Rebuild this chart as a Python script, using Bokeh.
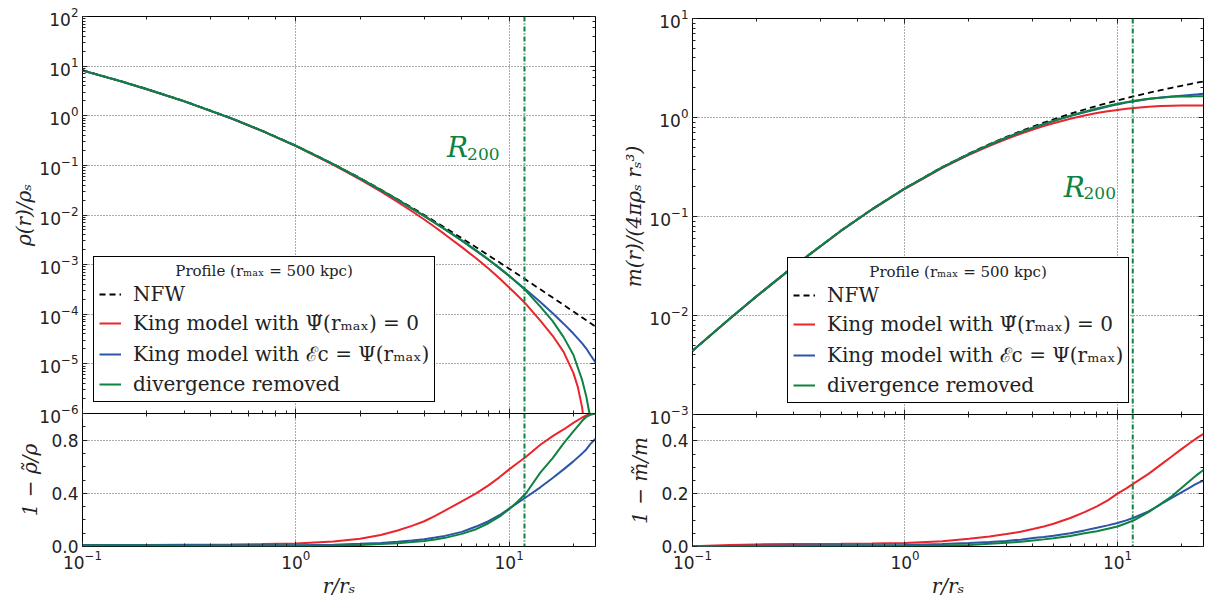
from bokeh.plotting import figure
from bokeh.models import (Range1d, LogAxis, LinearAxis, Span, Label, Legend, LegendItem,
                          SingleIntervalTicker, PrintfTickFormatter, CustomJSTickFormatter)
from bokeh.layouts import row, column
from bokeh.embed import file_html
from bokeh.resources import INLINE

# ---------------- data ----------------
r = [0.1, 0.15, 0.2, 0.3, 0.5, 0.7, 1.0, 1.5, 2.0, 2.5, 3.0, 3.5, 4.0, 4.5, 5.0, 6.0,
     7.0, 8.0, 9.0, 10.0, 11.0, 12.0, 14.0, 16.0, 18.0, 20.0, 22.0, 23.0, 24.0, 25.4]

rho_nfw = [8.264, 5.041, 3.472, 1.972, 0.8889, 0.4943, 0.25, 0.1067, 0.05556, 0.03265,
           0.02083, 0.01411, 0.01, 0.007346, 0.005556, 0.003401, 0.002232, 0.001543,
           0.001111, 0.0008264, 0.0006313, 0.0004931, 0.0003175, 0.0002163, 0.0001539,
           0.0001134, 8.593e-5, 7.548e-5, 6.667e-5, 5.649e-5]

r_rho_king_psi = [0.1, 0.15, 0.2, 0.3, 0.5, 0.7, 1.0, 1.5, 2.0, 2.5, 3.0, 3.5, 4.0, 4.5,
                  5.0, 6.0, 7.0, 8.0, 9.0, 10.0, 11.0, 12.0, 14.0, 16.0, 18.0, 20.0,
                  21.0, 22.0, 22.6]
rho_king_psi = [8.18, 4.99, 3.43, 1.946, 0.876, 0.485, 0.244, 0.1026, 0.0523, 0.02984,
                0.0183, 0.01192, 0.0081, 0.005656, 0.00406, 0.00225, 0.00134, 0.000833,
                0.000533, 0.000347, 0.0002336, 0.00016, 7.46e-5, 3.68e-5, 1.75e-5,
                6.6e-6, 3.4e-6, 1.3e-6, 5e-7]

rho_king_ec = [8.165, 4.98, 3.43, 1.95, 0.880, 0.4894, 0.2475, 0.1052, 0.05445, 0.03177,
               0.0201, 0.013475, 0.00945, 0.006854, 0.005112, 0.003027, 0.001897,
               0.00125, 0.00085, 0.000591, 0.000423, 0.0003107, 1.762e-4, 1.049e-4,
               6.46e-5, 4.08e-5, 2.58e-5, 2.04e-5, 1.53e-5, 1.07e-5]

r_rho_div = [0.1, 0.15, 0.2, 0.3, 0.5, 0.7, 1.0, 1.5, 2.0, 2.5, 3.0, 3.5, 4.0, 4.5, 5.0,
             6.0, 7.0, 8.0, 9.0, 10.0, 11.0, 12.0, 14.0, 16.0, 18.0, 20.0, 22.0, 23.0,
             23.8, 24.3]
rho_div = [8.20, 5.00, 3.448, 1.96, 0.8845, 0.4918, 0.2488, 0.1058, 0.0549, 0.03206,
           0.02031, 0.013644, 0.00958, 0.006957, 0.005195, 0.003078, 0.001942, 0.001273,
           0.000861, 0.000595, 0.000417, 0.0002959, 1.429e-4, 7.25e-5, 3.46e-5, 1.53e-5,
           4.7e-6, 2.2e-6, 1.0e-6, 4e-7]

drho_king_psi = [0.010, 0.011, 0.012, 0.013, 0.015, 0.018, 0.023, 0.038, 0.058, 0.086,
                 0.12, 0.155, 0.19, 0.23, 0.27, 0.34, 0.40, 0.46, 0.52, 0.58, 0.63,
                 0.675, 0.765, 0.83, 0.88, 0.93, 0.97, 0.985, 0.995, 1.0]
drho_king_ec = [0.012, 0.012, 0.012, 0.011, 0.010, 0.010, 0.010, 0.014, 0.020, 0.027,
                0.035, 0.045, 0.055, 0.067, 0.080, 0.110, 0.150, 0.190, 0.235, 0.285,
                0.330, 0.370, 0.445, 0.515, 0.580, 0.640, 0.700, 0.730, 0.770, 0.810]
drho_div = [0.008, 0.008, 0.007, 0.006, 0.005, 0.005, 0.005, 0.008, 0.012, 0.018,
            0.025, 0.033, 0.042, 0.053, 0.065, 0.095, 0.130, 0.175, 0.225, 0.280,
            0.340, 0.400, 0.555, 0.665, 0.775, 0.865, 0.945, 0.975, 0.990, 1.000]

m_nfw = [0.004401, 0.009327, 0.015655, 0.031595, 0.072132, 0.118863, 0.193147, 0.316291,
         0.431946, 0.538477, 0.636294, 0.726299, 0.809438, 0.886566, 0.958426, 1.088767,
         1.204442, 1.308334, 1.402585, 1.488808, 1.56824, 1.641873, 1.774719, 1.892029,
         1.99707, 2.092142, 2.178972, 2.219721, 2.258876, 2.311243]
m_king_psi = [0.004397, 0.009271, 0.01553, 0.03131, 0.07141, 0.11756, 0.19064, 0.30997,
              0.41942, 0.51802, 0.60639, 0.68563, 0.75601, 0.81919, 0.8760, 0.97118,
              1.04786, 1.10947, 1.15713, 1.19105, 1.22323, 1.24782, 1.28667, 1.3055,
              1.3161, 1.3201, 1.3226, 1.3230, 1.3237, 1.3243]
m_king_ec = [0.004401, 0.009308, 0.015608, 0.031469, 0.071771, 0.118269, 0.191988,
             0.313444, 0.426331, 0.52932, 0.622932, 0.70742, 0.783536, 0.85465, 0.919131,
             1.034329, 1.130971, 1.214134, 1.29038, 1.356304, 1.41298, 1.461267, 1.538681,
             1.589304, 1.629609, 1.663253, 1.690882, 1.702526, 1.714487, 1.733432]
m_div = [0.004401, 0.009318, 0.015624, 0.031532, 0.071916, 0.118506, 0.192568, 0.315026,
         0.429354, 0.533092, 0.627386, 0.713226, 0.790821, 0.862629, 0.928715, 1.045216,
         1.14422, 1.232451, 1.308613, 1.375659, 1.430235, 1.477686, 1.544006, 1.585513,
         1.617627, 1.627679, 1.634229, 1.635934, 1.637685, 1.640983]

dm_king_psi = [0.001, 0.006, 0.008, 0.009, 0.010, 0.011, 0.013, 0.020, 0.029, 0.038,
               0.047, 0.056, 0.066, 0.076, 0.086, 0.108, 0.130, 0.152, 0.175, 0.200,
               0.220, 0.240, 0.275, 0.310, 0.341, 0.369, 0.393, 0.404, 0.414, 0.427]
dm_king_ec = [0.000, 0.002, 0.003, 0.004, 0.005, 0.005, 0.006, 0.009, 0.013, 0.017,
              0.021, 0.026, 0.032, 0.036, 0.041, 0.050, 0.061, 0.071, 0.080, 0.089,
              0.099, 0.110, 0.133, 0.160, 0.184, 0.205, 0.224, 0.233, 0.241, 0.250]
dm_div = [0.000, 0.001, 0.002, 0.002, 0.003, 0.003, 0.003, 0.004, 0.006, 0.010,
          0.014, 0.018, 0.023, 0.027, 0.031, 0.040, 0.050, 0.058, 0.067, 0.076,
          0.088, 0.100, 0.130, 0.162, 0.190, 0.222, 0.250, 0.263, 0.275, 0.290]

r200 = 11.8
x_min, x_max = 0.1, 25.4

legend_title = "Profile (rₘₐₓ = 500 kpc)"
labels = ["NFW", "King model with Ψ̃(rₘₐₓ) = 0", "King model with ℰc = Ψ(rₘₐₓ)",
          "divergence removed"]

# ---------------- styles ----------------
RED = "#e8262c"
BLUE = "#2c55a5"
GREEN = "#0e8241"
TXT = "#222222"
SERIF = "DejaVu Serif"
SANS = "DejaVu Sans"
OVERLAP = 16


def style_axis(ax, show_labels):
    ax.axis_line_color = None
    ax.major_tick_in = 5
    ax.major_tick_out = 0
    ax.minor_tick_in = 3
    ax.minor_tick_out = 0
    ax.major_tick_line_color = TXT
    ax.minor_tick_line_color = TXT
    if show_labels:
        ax.major_label_text_font = SANS
        ax.major_label_text_font_size = "17px"
        ax.major_label_text_color = TXT
        ax.major_label_standoff = 4
    else:
        ax.formatter = CustomJSTickFormatter(code="return ''")
        ax.major_label_text_font_size = "0px"
        ax.major_label_standoff = 0


def style_label(ax, text, standoff):
    ax.axis_label = text
    ax.axis_label_text_font = SERIF
    ax.axis_label_text_font_style = "italic"
    ax.axis_label_text_font_size = "20px"
    ax.axis_label_text_color = TXT
    ax.axis_label_standoff = standoff


def make_fig(xr, yr, ytype, fw, fh, bl, br, bt, bb):
    p = figure(x_range=xr, y_range=yr, x_axis_type="log", y_axis_type=ytype,
               frame_width=fw, frame_height=fh, min_border_left=bl, min_border_right=br,
               min_border_top=bt, min_border_bottom=bb, toolbar_location=None,
               output_backend="svg", background_fill_color="white",
               border_fill_color="white")
    p.outline_line_color = "black"
    p.outline_line_width = 1
    p.outline_line_alpha = 1
    for g in (p.xgrid, p.ygrid):
        g.grid_line_color = "#333333"
        g.grid_line_dash = "1 2"
        g.grid_line_width = 1
        g.grid_line_alpha = 0.8
    return p


def decorate(p, top, ytick=None):
    left_ax = p.yaxis[0]
    below_ax = p.xaxis[0]
    style_axis(left_ax, True)
    style_axis(below_ax, not top)
    ra = LogAxis() if top else LinearAxis(ticker=ytick)
    style_axis(ra, False)
    p.add_layout(ra, "right")
    aa = LogAxis()
    style_axis(aa, False)
    p.add_layout(aa, "above")
    return left_ax, below_ax


def r200_span(p):
    p.add_layout(Span(location=r200, dimension="height", line_color=GREEN,
                      line_width=2, line_dash="5 2 1 2"))


def add_legend(p, rends, loc):
    items = [LegendItem(label=l, renderers=[rr]) for l, rr in zip(labels, rends)]
    lg = Legend(items=items, location=loc,
                title="\u00a0" * 16 + legend_title,
                title_text_font=SERIF, title_text_font_size="15px",
                title_text_font_style="normal", title_text_color=TXT,
                title_standoff=2, label_text_font=SERIF, label_text_font_size="20px",
                label_text_color=TXT, label_height=24, glyph_height=24, glyph_width=22,
                label_standoff=12, spacing=5, padding=5, margin=0,
                border_line_color="black", border_line_width=1, border_line_alpha=1,
                background_fill_color="white", background_fill_alpha=1)
    p.add_layout(lg)


def r200_label(p, x1, y1, x2, y2):
    p.add_layout(Label(x=x1, y=y1, text="R", text_font=SERIF, text_font_style="italic",
                       text_font_size="28px", text_color=GREEN, text_baseline="alphabetic"))
    p.add_layout(Label(x=x2, y=y2, text="200", text_font=SERIF, text_font_size="17px",
                       text_color=GREEN, text_baseline="alphabetic"))


# ---------------- left column ----------------
xr_l = Range1d(x_min, x_max)
lt = make_fig(xr_l, Range1d(1e-6, 1e2), "log", 513, 397, 82, 10, 16, OVERLAP)
lt_y, _ = decorate(lt, True)
style_label(lt_y, "ρ(r)/ρₛ", 0)

l_nfw = lt.line(r, rho_nfw, color="black", line_width=1.8, line_dash="6 4")
l_psi = lt.line(r_rho_king_psi, rho_king_psi, color=RED, line_width=2)
l_ec = lt.line(r, rho_king_ec, color=BLUE, line_width=2)
l_div = lt.line(r_rho_div, rho_div, color=GREEN, line_width=2)
r200_span(lt)
r200_label(lt, 5.12, 0.2286, 6.35, 0.173)
add_legend(lt, [l_nfw, l_psi, l_ec, l_div], (11, 11))

lb = make_fig(xr_l, Range1d(0.0, 1.0), "linear", 513, 133, 82, 10, 0, 55)
lb.border_fill_alpha = 0
lb.margin = (-OVERLAP, 0, 0, 0)
t_l = SingleIntervalTicker(interval=0.4, num_minor_ticks=4)
lb.yaxis[0].ticker = t_l
lb.ygrid.ticker = t_l
lb.yaxis[0].formatter = PrintfTickFormatter(format="%.1f")
lb_y, lb_x = decorate(lb, False, SingleIntervalTicker(interval=0.4, num_minor_ticks=4))
style_label(lb_y, "1 − ρ̃/ρ", 6)
style_label(lb_x, "r/rₛ", 2)
lb_x.major_label_standoff = 3
lb.line(r, drho_king_psi, color=RED, line_width=2)
lb.line(r, drho_king_ec, color=BLUE, line_width=2)
lb.line(r, drho_div, color=GREEN, line_width=2)
r200_span(lb)

# ---------------- right column ----------------
xr_r = Range1d(x_min, x_max)
rt = make_fig(xr_r, Range1d(1e-3, 1e1), "log", 511, 396, 87, 2, 18, OVERLAP)
rt_y, _ = decorate(rt, True)
style_label(rt_y, "m(r)/(4πρₛ rₛ³)", 0)

m_nfw_r = rt.line(r, m_nfw, color="black", line_width=1.8, line_dash="6 4")
m_psi_r = rt.line(r, m_king_psi, color=RED, line_width=2)
m_ec_r = rt.line(r, m_king_ec, color=BLUE, line_width=2)
m_div_r = rt.line(r, m_div, color=GREEN, line_width=2)
r200_span(rt)
r200_label(rt, 5.58, 0.196, 6.92, 0.1746)
add_legend(rt, [m_nfw_r, m_psi_r, m_ec_r, m_div_r], (95, 11))

rb = make_fig(xr_r, Range1d(0.0, 0.5), "linear", 511, 132, 87, 2, 0, 55)
rb.border_fill_alpha = 0
rb.margin = (-OVERLAP, 0, 0, 0)
t_r = SingleIntervalTicker(interval=0.2, num_minor_ticks=4)
rb.yaxis[0].ticker = t_r
rb.ygrid.ticker = t_r
rb.yaxis[0].formatter = PrintfTickFormatter(format="%.1f")
rb_y, rb_x = decorate(rb, False, SingleIntervalTicker(interval=0.2, num_minor_ticks=4))
style_label(rb_y, "1 − m̃/m", 6)
style_label(rb_x, "r/rₛ", 2)
rb_x.major_label_standoff = 3
rb.line(r, dm_king_psi, color=RED, line_width=2)
rb.line(r, dm_king_ec, color=BLUE, line_width=2)
rb.line(r, dm_div, color=GREEN, line_width=2)
r200_span(rb)

layout = row(column(lt, lb), column(rt, rb))
open("out.html", "w").write(file_html(layout, INLINE))
